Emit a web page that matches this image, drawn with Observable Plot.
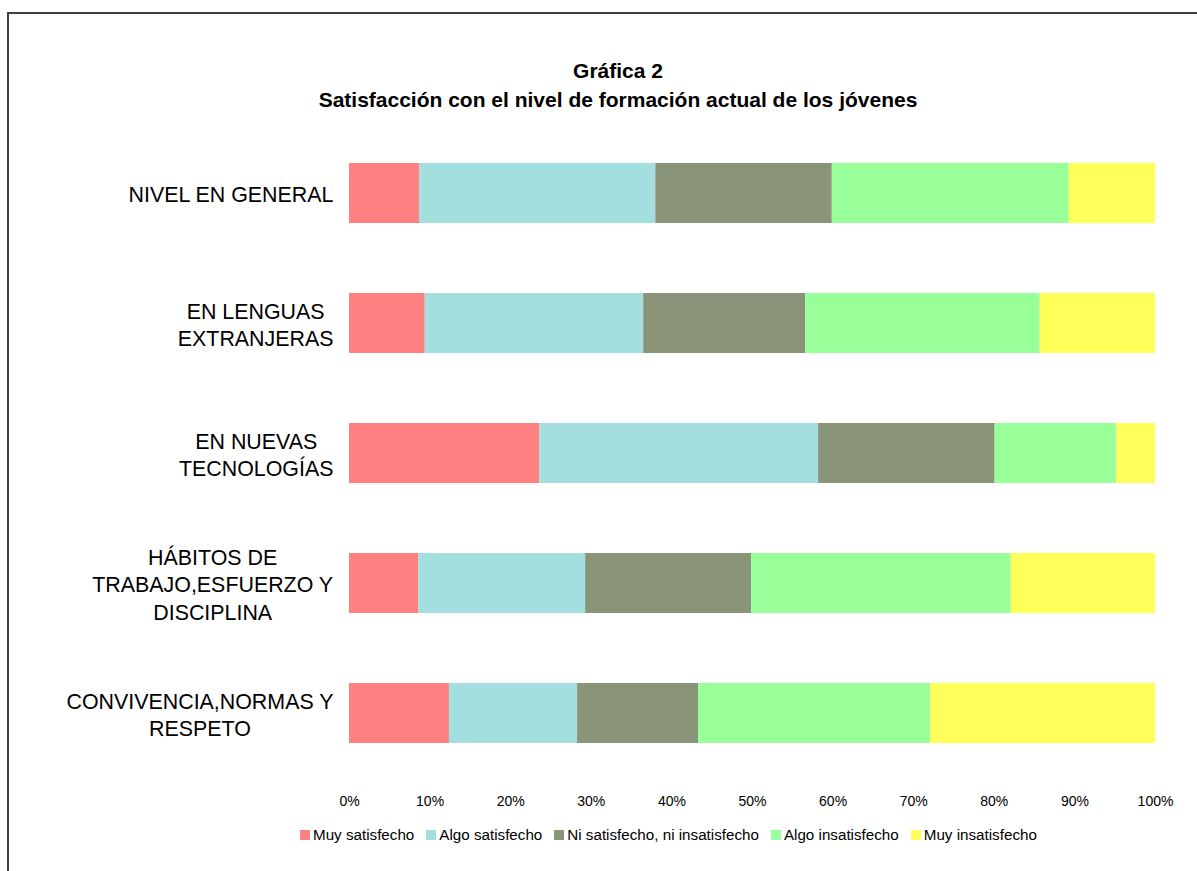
<!DOCTYPE html>
<html><head><meta charset="utf-8">
<script src="https://cdn.jsdelivr.net/npm/d3@7"></script>
<script src="https://cdn.jsdelivr.net/npm/@observablehq/plot@0.6"></script>
<style>
body{margin:0;background:#fff;font-family:"Liberation Sans",Arial,sans-serif;overflow:hidden;}
#frame{position:absolute;left:7px;top:12px;width:1300px;height:1000px;border:2px solid #404040;}
#title{position:absolute;left:0;width:1236px;top:56px;text-align:center;font-weight:bold;font-size:21px;line-height:29px;color:#000;}
#chart{position:absolute;left:0;top:0;}
#legend{position:absolute;left:300px;top:826px;display:flex;align-items:center;font-size:15.2px;color:#000;white-space:nowrap;}
#legend .item{display:flex;align-items:center;margin-right:12px;}
#legend .sw{width:10px;height:10px;margin-right:3px;}
</style>
</head><body>
<div id="frame"></div>
<div id="title">Gráfica 2<br>Satisfacción con el nivel de formación actual de los jóvenes</div>
<div id="chart"></div>
<div id="legend"></div>
<script>
const categories = ["NIVEL EN GENERAL", "EN LENGUAS EXTRANJERAS", "EN NUEVAS TECNOLOGÍAS", "HÁBITOS DE TRABAJO,ESFUERZO Y DISCIPLINA", "CONVIVENCIA,NORMAS Y RESPETO"];
const categoryLabels = ["NIVEL EN GENERAL", "EN LENGUAS\nEXTRANJERAS", "EN NUEVAS\nTECNOLOGÍAS", "HÁBITOS DE\nTRABAJO,ESFUERZO Y\nDISCIPLINA", "CONVIVENCIA,NORMAS Y\nRESPETO"];
const series = ["Muy satisfecho", "Algo satisfecho", "Ni satisfecho, ni insatisfecho", "Algo insatisfecho", "Muy insatisfecho"];
const colors = ["#FF8080", "#A4DFE0", "#8A9478", "#99FF99", "#FFFF59"];
const muySatisfecho    = [8.7, 9.4, 23.6, 8.6, 12.4];
const algoSatisfecho   = [29.3, 27.1, 34.6, 20.7, 15.9];
const niSatisfecho     = [21.9, 20.1, 21.9, 20.6, 15.0];
const algoInsatisfecho = [29.4, 29.1, 15.1, 32.2, 28.8];
const muyInsatisfecho  = [10.7, 14.3, 4.8, 17.9, 27.9];
const xTicks = [0, 10, 20, 30, 40, 50, 60, 70, 80, 90, 100];

const seriesValues = [muySatisfecho, algoSatisfecho, niSatisfecho, algoInsatisfecho, muyInsatisfecho];
const data = [];
categories.forEach((c, i) => {
  series.forEach((s, j) => data.push({category: c, series: s, value: seriesValues[j][i]}));
});
const labelMap = new Map(categories.map((c, i) => [c, categoryLabels[i]]));

const plot = Plot.plot({
  width: 1197,
  height: 820,
  marginLeft: 349,
  marginRight: 42,
  marginTop: 128,
  marginBottom: 42,
  style: {fontFamily: "Liberation Sans, Arial, sans-serif", fontSize: "14px", color: "#000", background: "transparent", overflow: "visible"},
  x: {domain: [0, 100], label: null},
  y: {domain: categories, paddingInner: 0.54, paddingOuter: 0.27, label: null},
  color: {domain: series, range: colors},
  marks: [
    Plot.barX(data, Plot.stackX({y: "category", x: "value", fill: "series", order: series})),
    Plot.axisX({ticks: xTicks, tickSize: 0, tickPadding: 18, fontSize: 14, tickFormat: d => d + "%", label: null}),
    Plot.axisY({tickSize: 0, tickPadding: 16, fontSize: 21.4, lineHeight: 1.28, tickFormat: d => labelMap.get(d), label: null})
  ]
});
document.getElementById("chart").appendChild(plot);

// center each multi-line y label block on itself (lines centered, block right-aligned)
plot.querySelectorAll('g[aria-label="y-axis tick label"] text').forEach(t => {
  const w = t.getBBox().width;
  t.setAttribute("text-anchor", "middle");
  t.setAttribute("transform", (t.getAttribute("transform") || "") + ` translate(${-w / 2},0)`);
});

const legend = document.getElementById("legend");
series.forEach((s, i) => {
  const item = document.createElement("div");
  item.className = "item";
  const sw = document.createElement("span");
  sw.className = "sw";
  sw.style.background = colors[i];
  const t = document.createElement("span");
  t.textContent = s;
  item.appendChild(sw);
  item.appendChild(t);
  legend.appendChild(item);
});
</script>
</body></html>
